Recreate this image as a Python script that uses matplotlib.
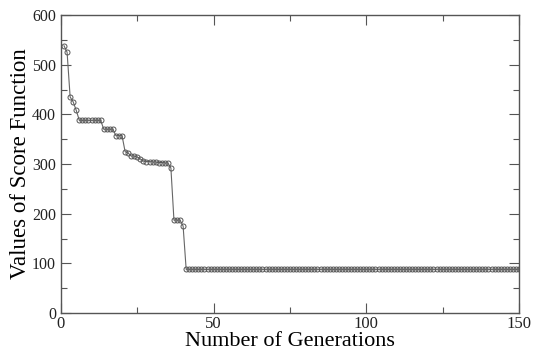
import numpy as np
import matplotlib.pyplot as plt

# best score per generation (GA run)
generations = np.arange(1, 151)
score = ([538, 525, 435, 425, 408]
         + [388] * 8
         + [370] * 4
         + [357] * 3
         + [325, 322, 316, 316, 314, 310]
         + [306, 305, 305, 304, 304, 303, 303, 302, 302]
         + [292]
         + [187] * 3
         + [175]
         + [88] * 110)

x_ticks = [0, 50, 100, 150]
y_ticks = [0, 100, 200, 300, 400, 500, 600]

plt.rcParams['font.family'] = ['Liberation Serif', 'DejaVu Serif']

fig = plt.figure(figsize=(5.33, 3.53), dpi=100)
ax = fig.add_axes([0.1144, 0.1133, 0.8593, 0.8442])

ax.plot(generations, score, color='#666666', lw=0.8,
        marker='o', ms=3.6, mfc='none', mec='#555555', mew=0.7)

ax.set_xlim(0, 150)
ax.set_ylim(0, 600)
ax.set_xticks(x_ticks)
ax.set_yticks(y_ticks)
ax.set_xticks([25, 75, 125], minor=True)
ax.set_yticks([50, 150, 250, 350, 450, 550], minor=True)
ax.tick_params(which='both', direction='in', top=True, right=True,
               colors='#555555', labelcolor='#222222', width=0.8)
ax.tick_params(axis='x', labelsize=12, pad=2)
ax.tick_params(axis='y', labelsize=11.5)
ax.tick_params(which='major', length=7)
ax.tick_params(which='minor', length=4)
for s in ax.spines.values():
    s.set_color('#555555')
    s.set_linewidth(1.0)

ax.set_xlabel('Number of Generations', fontsize=16, labelpad=0)
ax.set_ylabel('Values of Score Function', fontsize=16.5, labelpad=1)

fig.savefig('out.png', dpi=100)
